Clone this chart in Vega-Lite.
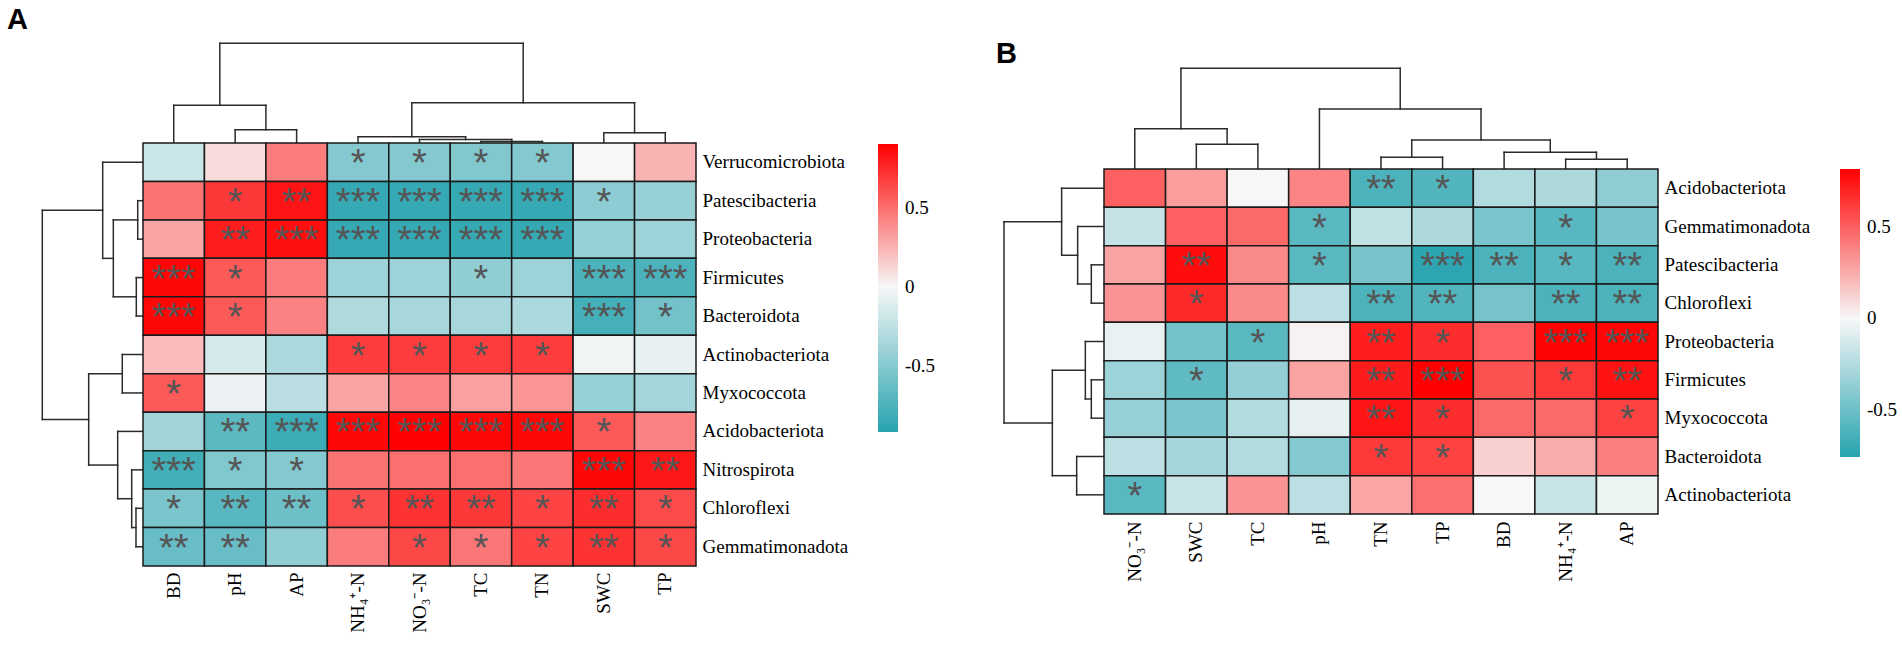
{
"$schema":"https://vega.github.io/schema/vega-lite/v6.json",
"padding":0,
"autosize":{"type":"pad"},
"background":"white",
"config":{"view":{"stroke":null},"concat":{"spacing":0}},
"datasets":{
"cellsA":[
{"taxon":"Verrucomicrobiota","factor":"BD","r":-0.2,"sig":""},{"taxon":"Verrucomicrobiota","factor":"pH","r":0.1,"sig":""},{"taxon":"Verrucomicrobiota","factor":"AP","r":0.45,"sig":""},{"taxon":"Verrucomicrobiota","factor":"NH₄⁺-N","r":-0.5,"sig":"*"},{"taxon":"Verrucomicrobiota","factor":"NO₃⁻-N","r":-0.5,"sig":"*"},{"taxon":"Verrucomicrobiota","factor":"TC","r":-0.52,"sig":"*"},{"taxon":"Verrucomicrobiota","factor":"TN","r":-0.5,"sig":"*"},{"taxon":"Verrucomicrobiota","factor":"SWC","r":0.0,"sig":""},{"taxon":"Verrucomicrobiota","factor":"TP","r":0.25,"sig":""},
{"taxon":"Patescibacteria","factor":"BD","r":0.48,"sig":""},{"taxon":"Patescibacteria","factor":"pH","r":0.7,"sig":"*"},{"taxon":"Patescibacteria","factor":"AP","r":0.83,"sig":"**"},{"taxon":"Patescibacteria","factor":"NH₄⁺-N","r":-0.85,"sig":"***"},{"taxon":"Patescibacteria","factor":"NO₃⁻-N","r":-0.85,"sig":"***"},{"taxon":"Patescibacteria","factor":"TC","r":-0.85,"sig":"***"},{"taxon":"Patescibacteria","factor":"TN","r":-0.85,"sig":"***"},{"taxon":"Patescibacteria","factor":"SWC","r":-0.47,"sig":"*"},{"taxon":"Patescibacteria","factor":"TP","r":-0.42,"sig":""},
{"taxon":"Proteobacteria","factor":"BD","r":0.3,"sig":""},{"taxon":"Proteobacteria","factor":"pH","r":0.8,"sig":"**"},{"taxon":"Proteobacteria","factor":"AP","r":0.85,"sig":"***"},{"taxon":"Proteobacteria","factor":"NH₄⁺-N","r":-0.85,"sig":"***"},{"taxon":"Proteobacteria","factor":"NO₃⁻-N","r":-0.85,"sig":"***"},{"taxon":"Proteobacteria","factor":"TC","r":-0.85,"sig":"***"},{"taxon":"Proteobacteria","factor":"TN","r":-0.85,"sig":"***"},{"taxon":"Proteobacteria","factor":"SWC","r":-0.43,"sig":""},{"taxon":"Proteobacteria","factor":"TP","r":-0.4,"sig":""},
{"taxon":"Firmicutes","factor":"BD","r":0.88,"sig":"***"},{"taxon":"Firmicutes","factor":"pH","r":0.58,"sig":"*"},{"taxon":"Firmicutes","factor":"AP","r":0.45,"sig":""},{"taxon":"Firmicutes","factor":"NH₄⁺-N","r":-0.4,"sig":""},{"taxon":"Firmicutes","factor":"NO₃⁻-N","r":-0.4,"sig":""},{"taxon":"Firmicutes","factor":"TC","r":-0.45,"sig":"*"},{"taxon":"Firmicutes","factor":"TN","r":-0.4,"sig":""},{"taxon":"Firmicutes","factor":"SWC","r":-0.75,"sig":"***"},{"taxon":"Firmicutes","factor":"TP","r":-0.75,"sig":"***"},
{"taxon":"Bacteroidota","factor":"BD","r":0.88,"sig":"***"},{"taxon":"Bacteroidota","factor":"pH","r":0.58,"sig":"*"},{"taxon":"Bacteroidota","factor":"AP","r":0.43,"sig":""},{"taxon":"Bacteroidota","factor":"NH₄⁺-N","r":-0.32,"sig":""},{"taxon":"Bacteroidota","factor":"NO₃⁻-N","r":-0.35,"sig":""},{"taxon":"Bacteroidota","factor":"TC","r":-0.35,"sig":""},{"taxon":"Bacteroidota","factor":"TN","r":-0.33,"sig":""},{"taxon":"Bacteroidota","factor":"SWC","r":-0.78,"sig":"***"},{"taxon":"Bacteroidota","factor":"TP","r":-0.58,"sig":"*"},
{"taxon":"Actinobacteriota","factor":"BD","r":0.22,"sig":""},{"taxon":"Actinobacteriota","factor":"pH","r":-0.15,"sig":""},{"taxon":"Actinobacteriota","factor":"AP","r":-0.33,"sig":""},{"taxon":"Actinobacteriota","factor":"NH₄⁺-N","r":0.68,"sig":"*"},{"taxon":"Actinobacteriota","factor":"NO₃⁻-N","r":0.68,"sig":"*"},{"taxon":"Actinobacteriota","factor":"TC","r":0.68,"sig":"*"},{"taxon":"Actinobacteriota","factor":"TN","r":0.68,"sig":"*"},{"taxon":"Actinobacteriota","factor":"SWC","r":-0.03,"sig":""},{"taxon":"Actinobacteriota","factor":"TP","r":-0.07,"sig":""},
{"taxon":"Myxococcota","factor":"BD","r":0.58,"sig":"*"},{"taxon":"Myxococcota","factor":"pH","r":-0.05,"sig":""},{"taxon":"Myxococcota","factor":"AP","r":-0.27,"sig":""},{"taxon":"Myxococcota","factor":"NH₄⁺-N","r":0.3,"sig":""},{"taxon":"Myxococcota","factor":"NO₃⁻-N","r":0.42,"sig":""},{"taxon":"Myxococcota","factor":"TC","r":0.32,"sig":""},{"taxon":"Myxococcota","factor":"TN","r":0.36,"sig":""},{"taxon":"Myxococcota","factor":"SWC","r":-0.42,"sig":""},{"taxon":"Myxococcota","factor":"TP","r":-0.37,"sig":""},
{"taxon":"Acidobacteriota","factor":"BD","r":-0.38,"sig":""},{"taxon":"Acidobacteriota","factor":"pH","r":-0.68,"sig":"**"},{"taxon":"Acidobacteriota","factor":"AP","r":-0.82,"sig":"***"},{"taxon":"Acidobacteriota","factor":"NH₄⁺-N","r":0.88,"sig":"***"},{"taxon":"Acidobacteriota","factor":"NO₃⁻-N","r":0.9,"sig":"***"},{"taxon":"Acidobacteriota","factor":"TC","r":0.88,"sig":"***"},{"taxon":"Acidobacteriota","factor":"TN","r":0.88,"sig":"***"},{"taxon":"Acidobacteriota","factor":"SWC","r":0.58,"sig":"*"},{"taxon":"Acidobacteriota","factor":"TP","r":0.43,"sig":""},
{"taxon":"Nitrospirota","factor":"BD","r":-0.8,"sig":"***"},{"taxon":"Nitrospirota","factor":"pH","r":-0.52,"sig":"*"},{"taxon":"Nitrospirota","factor":"AP","r":-0.5,"sig":"*"},{"taxon":"Nitrospirota","factor":"NH₄⁺-N","r":0.48,"sig":""},{"taxon":"Nitrospirota","factor":"NO₃⁻-N","r":0.5,"sig":""},{"taxon":"Nitrospirota","factor":"TC","r":0.5,"sig":""},{"taxon":"Nitrospirota","factor":"TN","r":0.47,"sig":""},{"taxon":"Nitrospirota","factor":"SWC","r":0.88,"sig":"***"},{"taxon":"Nitrospirota","factor":"TP","r":0.82,"sig":"**"},
{"taxon":"Chloroflexi","factor":"BD","r":-0.55,"sig":"*"},{"taxon":"Chloroflexi","factor":"pH","r":-0.7,"sig":"**"},{"taxon":"Chloroflexi","factor":"AP","r":-0.6,"sig":"**"},{"taxon":"Chloroflexi","factor":"NH₄⁺-N","r":0.62,"sig":"*"},{"taxon":"Chloroflexi","factor":"NO₃⁻-N","r":0.72,"sig":"**"},{"taxon":"Chloroflexi","factor":"TC","r":0.7,"sig":"**"},{"taxon":"Chloroflexi","factor":"TN","r":0.66,"sig":"*"},{"taxon":"Chloroflexi","factor":"SWC","r":0.74,"sig":"**"},{"taxon":"Chloroflexi","factor":"TP","r":0.63,"sig":"*"},
{"taxon":"Gemmatimonadota","factor":"BD","r":-0.63,"sig":"**"},{"taxon":"Gemmatimonadota","factor":"pH","r":-0.63,"sig":"**"},{"taxon":"Gemmatimonadota","factor":"AP","r":-0.45,"sig":""},{"taxon":"Gemmatimonadota","factor":"NH₄⁺-N","r":0.45,"sig":""},{"taxon":"Gemmatimonadota","factor":"NO₃⁻-N","r":0.64,"sig":"*"},{"taxon":"Gemmatimonadota","factor":"TC","r":0.47,"sig":"*"},{"taxon":"Gemmatimonadota","factor":"TN","r":0.66,"sig":"*"},{"taxon":"Gemmatimonadota","factor":"SWC","r":0.72,"sig":"**"},{"taxon":"Gemmatimonadota","factor":"TP","r":0.64,"sig":"*"}
],
"cellsB":[
{"taxon":"Acidobacteriota","factor":"NO₃⁻-N","r":0.5,"sig":""},{"taxon":"Acidobacteriota","factor":"SWC","r":0.3,"sig":""},{"taxon":"Acidobacteriota","factor":"TC","r":0.0,"sig":""},{"taxon":"Acidobacteriota","factor":"pH","r":0.38,"sig":""},{"taxon":"Acidobacteriota","factor":"TN","r":-0.62,"sig":"**"},{"taxon":"Acidobacteriota","factor":"TP","r":-0.6,"sig":"*"},{"taxon":"Acidobacteriota","factor":"BD","r":-0.25,"sig":""},{"taxon":"Acidobacteriota","factor":"NH₄⁺-N","r":-0.27,"sig":""},{"taxon":"Acidobacteriota","factor":"AP","r":-0.38,"sig":""},
{"taxon":"Gemmatimonadota","factor":"NO₃⁻-N","r":-0.18,"sig":""},{"taxon":"Gemmatimonadota","factor":"SWC","r":0.5,"sig":""},{"taxon":"Gemmatimonadota","factor":"TC","r":0.47,"sig":""},{"taxon":"Gemmatimonadota","factor":"pH","r":-0.57,"sig":"*"},{"taxon":"Gemmatimonadota","factor":"TN","r":-0.2,"sig":""},{"taxon":"Gemmatimonadota","factor":"TP","r":-0.27,"sig":""},{"taxon":"Gemmatimonadota","factor":"BD","r":-0.45,"sig":""},{"taxon":"Gemmatimonadota","factor":"NH₄⁺-N","r":-0.58,"sig":"*"},{"taxon":"Gemmatimonadota","factor":"AP","r":-0.46,"sig":""},
{"taxon":"Patescibacteria","factor":"NO₃⁻-N","r":0.28,"sig":""},{"taxon":"Patescibacteria","factor":"SWC","r":0.78,"sig":"**"},{"taxon":"Patescibacteria","factor":"TC","r":0.36,"sig":""},{"taxon":"Patescibacteria","factor":"pH","r":-0.57,"sig":"*"},{"taxon":"Patescibacteria","factor":"TN","r":-0.47,"sig":""},{"taxon":"Patescibacteria","factor":"TP","r":-0.73,"sig":"***"},{"taxon":"Patescibacteria","factor":"BD","r":-0.62,"sig":"**"},{"taxon":"Patescibacteria","factor":"NH₄⁺-N","r":-0.58,"sig":"*"},{"taxon":"Patescibacteria","factor":"AP","r":-0.62,"sig":"**"},
{"taxon":"Chloroflexi","factor":"NO₃⁻-N","r":0.33,"sig":""},{"taxon":"Chloroflexi","factor":"SWC","r":0.68,"sig":"*"},{"taxon":"Chloroflexi","factor":"TC","r":0.36,"sig":""},{"taxon":"Chloroflexi","factor":"pH","r":-0.22,"sig":""},{"taxon":"Chloroflexi","factor":"TN","r":-0.62,"sig":"**"},{"taxon":"Chloroflexi","factor":"TP","r":-0.6,"sig":"**"},{"taxon":"Chloroflexi","factor":"BD","r":-0.47,"sig":""},{"taxon":"Chloroflexi","factor":"NH₄⁺-N","r":-0.62,"sig":"**"},{"taxon":"Chloroflexi","factor":"AP","r":-0.62,"sig":"**"},
{"taxon":"Proteobacteria","factor":"NO₃⁻-N","r":-0.05,"sig":""},{"taxon":"Proteobacteria","factor":"SWC","r":-0.48,"sig":""},{"taxon":"Proteobacteria","factor":"TC","r":-0.57,"sig":"*"},{"taxon":"Proteobacteria","factor":"pH","r":0.02,"sig":""},{"taxon":"Proteobacteria","factor":"TN","r":0.72,"sig":"**"},{"taxon":"Proteobacteria","factor":"TP","r":0.67,"sig":"*"},{"taxon":"Proteobacteria","factor":"BD","r":0.5,"sig":""},{"taxon":"Proteobacteria","factor":"NH₄⁺-N","r":0.81,"sig":"***"},{"taxon":"Proteobacteria","factor":"AP","r":0.8,"sig":"***"},
{"taxon":"Firmicutes","factor":"NO₃⁻-N","r":-0.33,"sig":""},{"taxon":"Firmicutes","factor":"SWC","r":-0.55,"sig":"*"},{"taxon":"Firmicutes","factor":"TC","r":-0.36,"sig":""},{"taxon":"Firmicutes","factor":"pH","r":0.28,"sig":""},{"taxon":"Firmicutes","factor":"TN","r":0.73,"sig":"**"},{"taxon":"Firmicutes","factor":"TP","r":0.82,"sig":"***"},{"taxon":"Firmicutes","factor":"BD","r":0.55,"sig":""},{"taxon":"Firmicutes","factor":"NH₄⁺-N","r":0.63,"sig":"*"},{"taxon":"Firmicutes","factor":"AP","r":0.76,"sig":"**"},
{"taxon":"Myxococcota","factor":"NO₃⁻-N","r":-0.35,"sig":""},{"taxon":"Myxococcota","factor":"SWC","r":-0.45,"sig":""},{"taxon":"Myxococcota","factor":"TC","r":-0.25,"sig":""},{"taxon":"Myxococcota","factor":"pH","r":-0.06,"sig":""},{"taxon":"Myxococcota","factor":"TN","r":0.75,"sig":"**"},{"taxon":"Myxococcota","factor":"TP","r":0.67,"sig":"*"},{"taxon":"Myxococcota","factor":"BD","r":0.47,"sig":""},{"taxon":"Myxococcota","factor":"NH₄⁺-N","r":0.47,"sig":""},{"taxon":"Myxococcota","factor":"AP","r":0.6,"sig":"*"},
{"taxon":"Bacteroidota","factor":"NO₃⁻-N","r":-0.22,"sig":""},{"taxon":"Bacteroidota","factor":"SWC","r":-0.3,"sig":""},{"taxon":"Bacteroidota","factor":"TC","r":-0.25,"sig":""},{"taxon":"Bacteroidota","factor":"pH","r":-0.42,"sig":""},{"taxon":"Bacteroidota","factor":"TN","r":0.63,"sig":"*"},{"taxon":"Bacteroidota","factor":"TP","r":0.6,"sig":"*"},{"taxon":"Bacteroidota","factor":"BD","r":0.13,"sig":""},{"taxon":"Bacteroidota","factor":"NH₄⁺-N","r":0.25,"sig":""},{"taxon":"Bacteroidota","factor":"AP","r":0.4,"sig":""},
{"taxon":"Actinobacteriota","factor":"NO₃⁻-N","r":-0.57,"sig":"*"},{"taxon":"Actinobacteriota","factor":"SWC","r":-0.17,"sig":""},{"taxon":"Actinobacteriota","factor":"TC","r":0.33,"sig":""},{"taxon":"Actinobacteriota","factor":"pH","r":-0.22,"sig":""},{"taxon":"Actinobacteriota","factor":"TN","r":0.27,"sig":""},{"taxon":"Actinobacteriota","factor":"TP","r":0.45,"sig":""},{"taxon":"Actinobacteriota","factor":"BD","r":0.0,"sig":""},{"taxon":"Actinobacteriota","factor":"NH₄⁺-N","r":-0.17,"sig":""},{"taxon":"Actinobacteriota","factor":"AP","r":-0.04,"sig":""}
],
"topA":[
{"p":5.5,"p2":6.5,"h":0.039,"h2":0.039},{"p":5.5,"p2":5.5,"h":0,"h2":0.039},{"p":6.5,"p2":6.5,"h":0,"h2":0.039},
{"p":4.5,"p2":6.0,"h":0.091,"h2":0.091},{"p":4.5,"p2":4.5,"h":0,"h2":0.091},{"p":6.0,"p2":6.0,"h":0.039,"h2":0.091},
{"p":3.5,"p2":5.25,"h":0.164,"h2":0.164},{"p":3.5,"p2":3.5,"h":0,"h2":0.164},{"p":5.25,"p2":5.25,"h":0.091,"h2":0.164},
{"p":7.5,"p2":8.5,"h":0.268,"h2":0.268},{"p":7.5,"p2":7.5,"h":0,"h2":0.268},{"p":8.5,"p2":8.5,"h":0,"h2":0.268},
{"p":4.375,"p2":8.0,"h":1.048,"h2":1.048},{"p":4.375,"p2":4.375,"h":0.164,"h2":1.048},{"p":8.0,"p2":8.0,"h":0.268,"h2":1.048},
{"p":1.5,"p2":2.5,"h":0.346,"h2":0.346},{"p":1.5,"p2":1.5,"h":0,"h2":0.346},{"p":2.5,"p2":2.5,"h":0,"h2":0.346},
{"p":0.5,"p2":2.0,"h":0.98,"h2":0.98},{"p":0.5,"p2":0.5,"h":0,"h2":0.98},{"p":2.0,"p2":2.0,"h":0.346,"h2":0.98},
{"p":1.25,"p2":6.1875,"h":2.593,"h2":2.593},{"p":1.25,"p2":1.25,"h":0.98,"h2":2.593},{"p":6.1875,"p2":6.1875,"h":1.048,"h2":2.593}
],
"leftA":[
{"p":1.5,"p2":2.5,"h":0.086,"h2":0.086},{"p":1.5,"p2":1.5,"h":0,"h2":0.086},{"p":2.5,"p2":2.5,"h":0,"h2":0.086},
{"p":3.5,"p2":4.5,"h":0.109,"h2":0.109},{"p":3.5,"p2":3.5,"h":0,"h2":0.109},{"p":4.5,"p2":4.5,"h":0,"h2":0.109},
{"p":2.0,"p2":4.0,"h":0.483,"h2":0.483},{"p":2.0,"p2":2.0,"h":0.086,"h2":0.483},{"p":4.0,"p2":4.0,"h":0.109,"h2":0.483},
{"p":0.5,"p2":3.0,"h":0.656,"h2":0.656},{"p":0.5,"p2":0.5,"h":0,"h2":0.656},{"p":3.0,"p2":3.0,"h":0.483,"h2":0.656},
{"p":5.5,"p2":6.5,"h":0.337,"h2":0.337},{"p":5.5,"p2":5.5,"h":0,"h2":0.337},{"p":6.5,"p2":6.5,"h":0,"h2":0.337},
{"p":9.5,"p2":10.5,"h":0.114,"h2":0.114},{"p":9.5,"p2":9.5,"h":0,"h2":0.114},{"p":10.5,"p2":10.5,"h":0,"h2":0.114},
{"p":8.5,"p2":10.0,"h":0.184,"h2":0.184},{"p":8.5,"p2":8.5,"h":0,"h2":0.184},{"p":10.0,"p2":10.0,"h":0.114,"h2":0.184},
{"p":7.5,"p2":9.25,"h":0.412,"h2":0.412},{"p":7.5,"p2":7.5,"h":0,"h2":0.412},{"p":9.25,"p2":9.25,"h":0.184,"h2":0.412},
{"p":6.0,"p2":8.375,"h":0.884,"h2":0.884},{"p":6.0,"p2":6.0,"h":0.337,"h2":0.884},{"p":8.375,"p2":8.375,"h":0.412,"h2":0.884},
{"p":1.75,"p2":7.1875,"h":1.639,"h2":1.639},{"p":1.75,"p2":1.75,"h":0.656,"h2":1.639},{"p":7.1875,"p2":7.1875,"h":0.884,"h2":1.639}
],
"topB":[
{"p":1.5,"p2":2.5,"h":0.644,"h2":0.644},{"p":1.5,"p2":1.5,"h":0,"h2":0.644},{"p":2.5,"p2":2.5,"h":0,"h2":0.644},
{"p":0.5,"p2":2.0,"h":1.052,"h2":1.052},{"p":0.5,"p2":0.5,"h":0,"h2":1.052},{"p":2.0,"p2":2.0,"h":0.644,"h2":1.052},
{"p":4.5,"p2":5.5,"h":0.305,"h2":0.305},{"p":4.5,"p2":4.5,"h":0,"h2":0.305},{"p":5.5,"p2":5.5,"h":0,"h2":0.305},
{"p":7.5,"p2":8.5,"h":0.253,"h2":0.253},{"p":7.5,"p2":7.5,"h":0,"h2":0.253},{"p":8.5,"p2":8.5,"h":0,"h2":0.253},
{"p":6.5,"p2":8.0,"h":0.435,"h2":0.435},{"p":6.5,"p2":6.5,"h":0,"h2":0.435},{"p":8.0,"p2":8.0,"h":0.253,"h2":0.435},
{"p":5.0,"p2":7.25,"h":0.757,"h2":0.757},{"p":5.0,"p2":5.0,"h":0.305,"h2":0.757},{"p":7.25,"p2":7.25,"h":0.435,"h2":0.757},
{"p":3.5,"p2":6.125,"h":1.565,"h2":1.565},{"p":3.5,"p2":3.5,"h":0,"h2":1.565},{"p":6.125,"p2":6.125,"h":0.757,"h2":1.565},
{"p":1.25,"p2":4.8125,"h":2.627,"h2":2.627},{"p":1.25,"p2":1.25,"h":1.052,"h2":2.627},{"p":4.8125,"p2":4.8125,"h":1.565,"h2":2.627}
],
"leftB":[
{"p":2.5,"p2":3.5,"h":0.206,"h2":0.206},{"p":2.5,"p2":2.5,"h":0,"h2":0.206},{"p":3.5,"p2":3.5,"h":0,"h2":0.206},
{"p":1.5,"p2":3.0,"h":0.428,"h2":0.428},{"p":1.5,"p2":1.5,"h":0,"h2":0.428},{"p":3.0,"p2":3.0,"h":0.206,"h2":0.428},
{"p":0.5,"p2":2.25,"h":0.688,"h2":0.688},{"p":0.5,"p2":0.5,"h":0,"h2":0.688},{"p":2.25,"p2":2.25,"h":0.428,"h2":0.688},
{"p":5.5,"p2":6.5,"h":0.206,"h2":0.206},{"p":5.5,"p2":5.5,"h":0,"h2":0.206},{"p":6.5,"p2":6.5,"h":0,"h2":0.206},
{"p":4.5,"p2":6.0,"h":0.303,"h2":0.303},{"p":4.5,"p2":4.5,"h":0,"h2":0.303},{"p":6.0,"p2":6.0,"h":0.206,"h2":0.303},
{"p":7.5,"p2":8.5,"h":0.444,"h2":0.444},{"p":7.5,"p2":7.5,"h":0,"h2":0.444},{"p":8.5,"p2":8.5,"h":0,"h2":0.444},
{"p":5.25,"p2":8.0,"h":0.839,"h2":0.839},{"p":5.25,"p2":5.25,"h":0.303,"h2":0.839},{"p":8.0,"p2":8.0,"h":0.444,"h2":0.839},
{"p":1.375,"p2":6.625,"h":1.624,"h2":1.624},{"p":1.375,"p2":1.375,"h":0.688,"h2":1.624},{"p":6.625,"p2":6.625,"h":0.839,"h2":1.624}
]
},
"hconcat":[
{
"vconcat":[
{
"width":696,"height":143,
"layer":[
{"data":{"name":"topA"},"mark":{"type":"rule","stroke":"#2b2b2b","strokeWidth":1.5,"strokeCap":"square"},
"encoding":{"x":{"field":"p","type":"quantitative","scale":{"domain":[-2.3275,9],"nice":false,"zero":false},"axis":null},"x2":{"field":"p2"},"y":{"field":"h","type":"quantitative","scale":{"domain":[0,3.719],"nice":false,"zero":false},"axis":null},"y2":{"field":"h2"}}},
{"data":{"values":[{"label":"A"}]},"mark":{"type":"text","font":"Liberation Sans","fontWeight":"bold","fontSize":29,"align":"left","baseline":"alphabetic","color":"black"},
"encoding":{"x":{"datum":-2.2135,"type":"quantitative"},"y":{"datum":2.965,"type":"quantitative"},"text":{"field":"label"}}}
]
},
{
"hconcat":[
{
"width":143,"height":423,
"data":{"name":"leftA"},
"mark":{"type":"rule","stroke":"#2b2b2b","strokeWidth":1.5,"strokeCap":"square"},
"encoding":{"y":{"field":"p","type":"quantitative","scale":{"domain":[0,11],"nice":false,"zero":false,"reverse":true},"axis":null},"y2":{"field":"p2"},"x":{"field":"h","type":"quantitative","scale":{"domain":[0,2.3275],"nice":false,"zero":false,"reverse":true},"axis":null},"x2":{"field":"h2"}}
},
{
"width":553,"height":423,
"data":{"name":"cellsA"},
"encoding":{
"x":{"field":"factor","type":"nominal","scale":{"domain":["BD","pH","AP","NH₄⁺-N","NO₃⁻-N","TC","TN","SWC","TP"],"paddingInner":0,"paddingOuter":0},"axis":{"orient":"bottom","title":null,"ticks":false,"domain":false,"labelAngle":-90,"labelPadding":6,"labelFont":"Liberation Serif","labelFontSize":19,"labelColor":"black"}},
"y":{"field":"taxon","type":"nominal","scale":{"domain":["Verrucomicrobiota","Patescibacteria","Proteobacteria","Firmicutes","Bacteroidota","Actinobacteriota","Myxococcota","Acidobacteriota","Nitrospirota","Chloroflexi","Gemmatimonadota"],"paddingInner":0,"paddingOuter":0},"axis":{"orient":"right","title":null,"ticks":false,"domain":false,"labelPadding":6,"labelFont":"Liberation Serif","labelFontSize":19,"labelColor":"black"}}
},
"layer":[
{"mark":{"type":"rect","stroke":"#1a1a1a","strokeWidth":1.5},
"encoding":{"color":{"field":"r","type":"quantitative","scale":{"domain":[-0.918,0,0.905],"range":["#26A3AF","#F7F7F7","#FF0000"],"interpolate":"rgb"},
"legend":{"orient":"none","legendX":735,"legendY":1,"direction":"vertical","gradientLength":288,"gradientThickness":20,"gradientStrokeWidth":0,"title":null,"values":[-0.5,0,0.5],"labelFont":"Liberation Serif","labelFontSize":19,"labelColor":"black","labelOffset":7,"padding":0,"labelOverlap":false,"labelExpr":"datum.value > 0.1 ? '0.5' : (datum.value < -0.1 ? '-0.5' : '0')"}}}},
{"mark":{"type":"text","font":"Liberation Sans","fontSize":38,"color":"#555555","baseline":"alphabetic","dy":14},
"encoding":{"text":{"field":"sig"}}}
]
}
],
"spacing":0,"bounds":"flush",
"resolve":{"scale":{"color":"independent"},"legend":{"color":"independent"}}
}
],
"spacing":0,"bounds":"flush",
"resolve":{"scale":{"color":"independent"},"legend":{"color":"independent"}}
},
{
"vconcat":[
{
"width":706,"height":169,
"layer":[
{"data":{"name":"topB"},"mark":{"type":"rule","stroke":"#2b2b2b","strokeWidth":1.5,"strokeCap":"square"},
"encoding":{"x":{"field":"p","type":"quantitative","scale":{"domain":[-2.469,9],"nice":false,"zero":false},"axis":null},"x2":{"field":"p2"},"y":{"field":"h","type":"quantitative","scale":{"domain":[0,4.409],"nice":false,"zero":false},"axis":null},"y2":{"field":"h2"}}},
{"data":{"values":[{"label":"B"}]},"mark":{"type":"text","font":"Liberation Sans","fontWeight":"bold","fontSize":29,"align":"left","baseline":"alphabetic","color":"black"},
"encoding":{"x":{"datum":-1.754,"type":"quantitative"},"y":{"datum":2.765,"type":"quantitative"},"text":{"field":"label"}}}
]
},
{
"hconcat":[
{
"width":152,"height":345,
"data":{"name":"leftB"},
"mark":{"type":"rule","stroke":"#2b2b2b","strokeWidth":1.5,"strokeCap":"square"},
"encoding":{"y":{"field":"p","type":"quantitative","scale":{"domain":[0,9],"nice":false,"zero":false,"reverse":true},"axis":null},"y2":{"field":"p2"},"x":{"field":"h","type":"quantitative","scale":{"domain":[0,2.469],"nice":false,"zero":false,"reverse":true},"axis":null},"x2":{"field":"h2"}}
},
{
"width":554,"height":345,
"data":{"name":"cellsB"},
"encoding":{
"x":{"field":"factor","type":"nominal","scale":{"domain":["NO₃⁻-N","SWC","TC","pH","TN","TP","BD","NH₄⁺-N","AP"],"paddingInner":0,"paddingOuter":0},"axis":{"orient":"bottom","title":null,"ticks":false,"domain":false,"labelAngle":-90,"labelPadding":7,"labelFont":"Liberation Serif","labelFontSize":19,"labelColor":"black"}},
"y":{"field":"taxon","type":"nominal","scale":{"domain":["Acidobacteriota","Gemmatimonadota","Patescibacteria","Chloroflexi","Proteobacteria","Firmicutes","Myxococcota","Bacteroidota","Actinobacteriota"],"paddingInner":0,"paddingOuter":0},"axis":{"orient":"right","title":null,"ticks":false,"domain":false,"labelPadding":6,"labelFont":"Liberation Serif","labelFontSize":19,"labelColor":"black"}}
},
"layer":[
{"mark":{"type":"rect","stroke":"#1a1a1a","strokeWidth":1.5},
"encoding":{"color":{"field":"r","type":"quantitative","scale":{"domain":[-0.76,0,0.82],"range":["#26A3AF","#F7F7F7","#FF0000"],"interpolate":"rgb"},
"legend":{"orient":"none","legendX":736,"legendY":0,"direction":"vertical","gradientLength":288,"gradientThickness":20,"gradientStrokeWidth":0,"title":null,"values":[-0.5,0,0.5],"labelFont":"Liberation Serif","labelFontSize":19,"labelColor":"black","labelOffset":7,"padding":0,"labelOverlap":false,"labelExpr":"datum.value > 0.1 ? '0.5' : (datum.value < -0.1 ? '-0.5' : '0')"}}}},
{"mark":{"type":"text","font":"Liberation Sans","fontSize":38,"color":"#555555","baseline":"alphabetic","dy":14},
"encoding":{"text":{"field":"sig"}}}
]
}
],
"spacing":0,"bounds":"flush",
"resolve":{"scale":{"color":"independent"},"legend":{"color":"independent"}}
}
],
"spacing":0,"bounds":"flush",
"resolve":{"scale":{"color":"independent"},"legend":{"color":"independent"}}
}
],
"spacing":16,
"bounds":"full",
"resolve":{"scale":{"color":"independent"},"legend":{"color":"independent"}}
}
